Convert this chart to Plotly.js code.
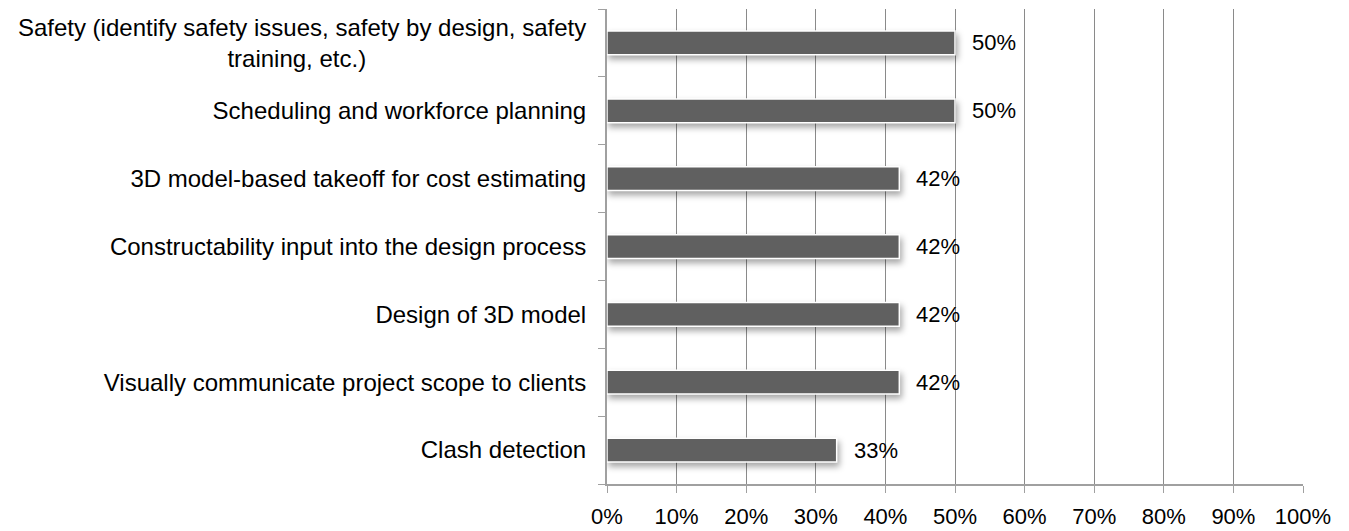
<!DOCTYPE html>
<html>
<head>
<meta charset="utf-8">
<script src="https://cdn.plot.ly/plotly-3.0.1.min.js"></script>
<style>
html, body { margin: 0; padding: 0; background: #fff; }
#chart { width: 1349px; height: 531px; }
.bars .point path { filter: drop-shadow(2px 4px 3px rgba(0,0,0,0.35)); }
</style>
</head>
<body>
<div id="chart"></div>
<script>
// Categories listed top to bottom
var categories = [
  "Safety (identify safety issues, safety by design, safety training, etc.)",
  "Scheduling and workforce planning",
  "3D model-based takeoff for cost estimating",
  "Constructability input into the design process",
  "Design of 3D model",
  "Visually communicate project scope to clients",
  "Clash detection"
];
var tickLabels = [
  "Safety (identify safety issues, safety by design, safety<br>training, etc.)" + "\u00a0".repeat(33),
  "Scheduling and workforce planning",
  "3D model-based takeoff for cost estimating",
  "Constructability input into the design process",
  "Design of 3D model",
  "Visually communicate project scope to clients",
  "Clash detection"
];
var values = [0.50, 0.50, 0.42, 0.42, 0.42, 0.42, 0.33];
var valueLabels = ["50%", "50%", "42%", "42%", "42%", "42%", "33%"];
var xTickVals = [0, 0.1, 0.2, 0.3, 0.4, 0.5, 0.6, 0.7, 0.8, 0.9, 1.0];
var xTickText = ["0%", "10%", "20%", "30%", "40%", "50%", "60%", "70%", "80%", "90%", "100%"];

var FONT = "'Liberation Sans', Arial, sans-serif";

var trace = {
  type: "bar",
  orientation: "h",
  x: values,
  y: categories,
  width: 0.35,
  marker: { color: "#606060", line: { color: "#ffffff", width: 1.5 } },
  hoverinfo: "none"
};

var annotations = values.map(function (v, i) {
  return {
    x: v, y: categories[i], xref: "x", yref: "y",
    text: valueLabels[i], showarrow: false,
    xanchor: "left", yanchor: "middle", xshift: 15,
    font: { family: FONT, size: 22, color: "#000" }
  };
});

var layout = {
  width: 1349, height: 531,
  margin: { l: 607, r: 46, t: 9, b: 47, pad: 0 },
  paper_bgcolor: "#fff", plot_bgcolor: "#fff",
  showlegend: false,
  font: { family: FONT, color: "#000" },
  xaxis: {
    range: [0, 1],
    tickvals: xTickVals, ticktext: xTickText,
    showgrid: true, gridcolor: "#8a8a8a", gridwidth: 1,
    showline: true, linecolor: "#a0a0a0", linewidth: 2,
    ticks: "outside", ticklen: 7, tickcolor: "#a0a0a0", tickwidth: 1,
    ticklabelstandoff: 5,
    tickfont: { family: FONT, size: 22, color: "#000" },
    zeroline: false, fixedrange: true
  },
  yaxis: {
    type: "category",
    autorange: "reversed",
    tickvals: categories, ticktext: tickLabels,
    tickson: "boundaries",
    showgrid: false,
    showline: true, linecolor: "#a0a0a0", linewidth: 2,
    ticks: "outside", ticklen: 7, tickcolor: "#a0a0a0", tickwidth: 1,
    ticklabelstandoff: 14,
    tickfont: { family: FONT, size: 24, color: "#000" },
    zeroline: false, fixedrange: true
  },
  annotations: annotations
};

Plotly.newPlot("chart", [trace], layout, { displayModeBar: false, staticPlot: true });
</script>
</body>
</html>
